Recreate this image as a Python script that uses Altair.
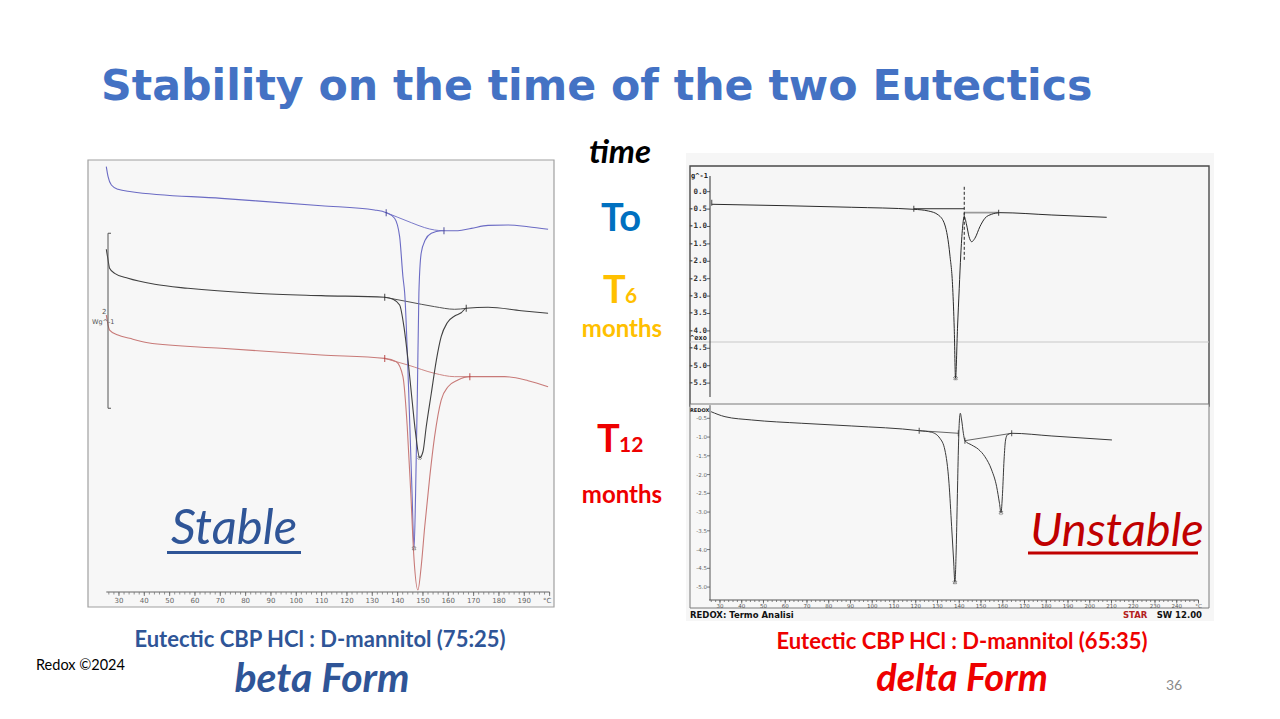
import altair as alt
import pandas as pd

# ---------------- beta form DSC traces (temperature in degC, heat flow in W/g, stacked display) ----
beta_t0_T = [25.0, 25.7, 27.0, 29.6, 34.9, 70.4, 109.9, 130.9, 135.5, 138.8, 140.8, 142.1, 142.8,
             144.4, 145.7, 146.5, 147.1, 147.8, 148.4, 149.3, 150.9, 153.3, 157.2, 163.8, 169.1,
             175.7, 183.6, 191.5, 199.4]
beta_t0_hf = [4.861, 4.746, 4.651, 4.602, 4.575, 4.499, 4.415, 4.366, 4.335, 4.271, 4.061, 3.603,
              3.414, 2.271, 1.128, 0.499, 1.128, 2.271, 3.414, 3.871, 4.023, 4.099, 4.129, 4.129,
              4.156, 4.190, 4.194, 4.175, 4.145]
beta_t0_base_T = [135.5, 140.1, 145.4, 150.7, 154.6, 157.9]
beta_t0_base_hf = [4.335, 4.282, 4.221, 4.164, 4.137, 4.129]

beta_t6_T = [25.0, 25.7, 26.3, 28.3, 33.6, 44.1, 57.2, 83.6, 109.9, 134.9, 138.2, 140.8, 142.5,
             144.1, 145.7, 147.1, 148.7, 150.0, 151.3, 153.3, 155.3, 157.2, 159.6, 162.5, 165.1,
             167.1, 175.7, 188.8, 199.4]
beta_t6_hf = [3.917, 3.794, 3.699, 3.642, 3.585, 3.517, 3.471, 3.414, 3.387, 3.368, 3.345, 3.280,
              3.032, 2.651, 2.194, 1.814, 1.535, 1.603, 1.889, 2.271, 2.651, 2.918, 3.078, 3.154,
              3.192, 3.242, 3.254, 3.215, 3.185]
beta_t6_base_T = [134.9, 144.1, 154.6, 162.5, 167.1]
beta_t6_base_hf = [3.368, 3.318, 3.261, 3.231, 3.242]

beta_t12_T = [25.0, 25.7, 26.3, 29.6, 34.2, 41.4, 70.4, 109.9, 134.9, 139.5, 142.1, 143.8, 145.2,
              146.5, 148.0, 149.3, 150.7, 152.7, 154.6, 157.2, 159.9, 163.8, 168.5, 182.3, 191.5,
              199.4]
beta_t12_hf = [3.166, 3.051, 2.994, 2.937, 2.899, 2.849, 2.785, 2.709, 2.670, 2.632, 2.461, 1.889,
               1.128, 0.366, 0.023, 0.289, 0.746, 1.318, 1.775, 2.194, 2.346, 2.423, 2.461, 2.461,
               2.415, 2.346]
beta_t12_base_T = [134.9, 144.1, 154.6, 162.5, 168.5]
beta_t12_base_hf = [2.670, 2.594, 2.499, 2.461, 2.461]

beta_limits_T = [135.5, 158.3, 134.9, 167.1, 134.9, 168.5]
beta_limits_hf = [4.335, 4.129, 3.368, 3.242, 2.670, 2.461]
beta_scale_bar = [2.1, 4.1]          # 2 W/g scale bar

beta_ticks = [30, 40, 50, 60, 70, 80, 90, 100, 110, 120, 130, 140, 150, 160, 170, 180, 190, 199]
beta_tick_labels = ["30", "40", "50", "60", "70", "80", "90", "100", "110", "120", "130", "140",
                    "150", "160", "170", "180", "190", "°C"]
beta_major = [30, 40, 50, 60, 70, 80, 90, 100, 110, 120, 130, 140, 150, 160, 170, 180, 190, 200]
beta_minor = list(range(26, 201, 2))
beta_x_span = [25, 200]

# ---------------- delta form DSC traces -----------------------------------------------------------
delta_t0_T = [26.2, 59.9, 90.6, 119.1, 125.8, 130.4, 133.4, 135.7, 137.0, 137.7, 138.3, 139.2,
              140.0, 140.7, 141.5, 142.3, 143.4, 144.5, 145.7, 147.2, 149.5, 151.8, 154.9, 158.7,
              182.6, 207.8]
delta_t0_hf = [-0.362, -0.402, -0.448, -0.506, -0.555, -0.670, -0.957, -1.819, -2.776, -3.925,
               -5.362, -3.925, -2.776, -1.819, -1.052, -0.718, -0.957, -1.293, -1.437, -1.339,
               -1.006, -0.764, -0.649, -0.603, -0.670, -0.736]
delta_t0_base1_T = [119.1, 142.3]
delta_t0_base1_hf = [-0.49, -0.49]
delta_t0_base2_T = [142.3, 158.1]
delta_t0_base2_hf = [-0.603, -0.603]
delta_t0_split = [142.3, 0.14, -1.99]   # vertical split line: T, top, bottom
delta_t0_limits_T = [26.2, 119.1, 142.3, 158.1]
delta_t0_limits_hf = [-0.32, -0.49, -0.70, -0.603]
delta_t0_peak_T = [138.3]
delta_t0_peak_hf = [-5.362]

delta_t12_T = [25.9, 32.3, 44.6, 67.6, 90.6, 121.6, 127.3, 131.1, 133.4, 135.3, 136.5, 137.4,
               138.0, 138.6, 139.1, 139.6, 140.0, 140.5, 141.1, 141.9, 142.6, 145.7, 148.8, 151.8,
               154.9, 157.2, 158.5, 159.2, 159.9, 160.6, 161.3, 162.2, 164.1, 182.6, 210.2]
delta_t12_hf = [-0.323, -0.456, -0.544, -0.632, -0.704, -0.829, -0.872, -1.032, -1.344, -2.232,
                -3.389, -4.277, -4.872, -4.011, -2.677, -1.344, -0.632, -0.365, -0.544, -0.899,
                -1.096, -1.211, -1.325, -1.523, -1.877, -2.323, -2.765, -3.016, -2.499, -1.611,
                -1.077, -0.936, -0.899, -0.971, -1.077]
delta_t12_base1_T = [121.6, 139.6]
delta_t12_base1_hf = [-0.829, -0.899]
delta_t12_base2_T = [142.6, 164.1]
delta_t12_base2_hf = [-1.096, -0.899]
delta_t12_limits_T = [121.6, 139.6, 142.6, 164.1]
delta_t12_limits_hf = [-0.829, -0.899, -1.096, -0.899]
delta_t12_peak_T = [138.0, 159.2]
delta_t12_peak_hf = [-4.872, -3.016]

delta_ticks = [30, 40, 50, 60, 70, 80, 90, 100, 110, 120, 130, 140, 150, 160, 170, 180, 190, 200,
               210, 220, 230, 240, 250]
delta_tick_labels = ["30", "40", "50", "60", "70", "80", "90", "100", "110", "120", "130", "140",
                     "150", "160", "170", "180", "190", "200", "210", "220", "230", "240", "°C"]
delta_minor = list(range(26, 251, 2))
delta_x_span = [25, 250]

delta_top_yticks = [0.0, -0.5, -1.0, -1.5, -2.0, -2.5, -3.0, -3.5, -4.0, -4.5, -5.0, -5.5]
delta_top_ylabels = ["0.0", "-0.5", "-1.0", "-1.5", "-2.0", "-2.5", "-3.0", "-3.5", "-4.0", "-4.5",
                     "-5.0", "-5.5"]
delta_top_y_span = [-5.9, 0.45]
delta_bot_yticks = [-0.5, -1.0, -1.5, -2.0, -2.5, -3.0, -3.5, -4.0, -4.5, -5.0]
delta_bot_ylabels = ["-0.5", "-1.0", "-1.5", "-2.0", "-2.5", "-3.0", "-3.5", "-4.0", "-4.5", "-5.0"]
delta_bot_y_span = [-5.35, -0.15]

# ---------------- scales: each DSC panel gets its own pixel window on the slide ------------------
W, H = 1280, 719
BX = alt.Scale(domain=[25, 200], range=[106.3, 549.6], nice=False, zero=False)
BY = alt.Scale(domain=[0, 5], range=[592, 154.5], nice=False, zero=False)
DX = alt.Scale(domain=[25, 250], range=[709.1, 1198.5], nice=False, zero=False)
DTY = alt.Scale(domain=[-6, 0.6], range=[400.5, 170.8], nice=False, zero=False)
DBY = alt.Scale(domain=[-5.35, -0.15], range=[600.2, 405.2], nice=False, zero=False)


def trace(T, hf, color, xs, ys, width=1.0):
    df = pd.DataFrame({"T": T, "hf": hf})
    return alt.Chart(df).mark_line(color=color, strokeWidth=width, interpolate="monotone").encode(
        x=alt.X("T:Q", scale=xs, axis=None),
        y=alt.Y("hf:Q", scale=ys, axis=None),
    )


def limit_marks(T, hf, color, xs, ys, size=7):
    df = pd.DataFrame({"T": T, "hf": hf})
    return alt.Chart(df).mark_tick(color=color, orient="vertical", size=size, thickness=1.2).encode(
        x=alt.X("T:Q", scale=xs, axis=None),
        y=alt.Y("hf:Q", scale=ys, axis=None),
    )


def peak_marks(T, hf, color, xs, ys):
    df = pd.DataFrame({"T": T, "hf": hf})
    return alt.Chart(df).mark_point(shape="cross", angle=45, size=14, color=color, strokeWidth=0.8).encode(
        x=alt.X("T:Q", scale=xs, axis=None),
        y=alt.Y("hf:Q", scale=ys, axis=None),
    )


# instrument-style axes drawn through the panel scales
def x_axis_line(span, xs, y, color, sw=1.0):
    df = pd.DataFrame({"a": [span[0]], "b": [span[1]]})
    return alt.Chart(df).mark_rule(color=color, strokeWidth=sw).encode(
        x=alt.X("a:Q", scale=xs, axis=None), x2="b:Q", y=alt.value(y))


def x_ticks(vals, xs, y, length, color):
    df = pd.DataFrame({"T": vals})
    return alt.Chart(df).mark_rule(color=color, strokeWidth=0.8).encode(
        x=alt.X("T:Q", scale=xs, axis=None), y=alt.value(y), y2=alt.value(y + length))


def x_labels(vals, labs, xs, y, size, color):
    df = pd.DataFrame({"T": vals, "lab": labs})
    return alt.Chart(df).mark_text(font="DejaVu Sans", fontSize=size, color=color,
                                   baseline="middle", align="center").encode(
        x=alt.X("T:Q", scale=xs, axis=None), y=alt.value(y), text="lab:N")


def y_axis_line(span, ys, x, color, sw=1.0):
    df = pd.DataFrame({"a": [span[0]], "b": [span[1]]})
    return alt.Chart(df).mark_rule(color=color, strokeWidth=sw).encode(
        y=alt.Y("a:Q", scale=ys, axis=None), y2="b:Q", x=alt.value(x))


def y_ticks(vals, ys, x, length, color):
    df = pd.DataFrame({"v": vals})
    return alt.Chart(df).mark_rule(color=color, strokeWidth=0.8).encode(
        y=alt.Y("v:Q", scale=ys, axis=None), x=alt.value(x - length), x2=alt.value(x))


def y_labels(vals, labs, ys, x, size, color, font="DejaVu Sans", weight="normal"):
    df = pd.DataFrame({"v": vals, "lab": labs})
    return alt.Chart(df).mark_text(font=font, fontSize=size, fontWeight=weight, color=color,
                                   baseline="middle", align="right").encode(
        y=alt.Y("v:Q", scale=ys, axis=None), x=alt.value(x), text="lab:N")


def box(x1, x2, y1, y2, fill=None, stroke=None, sw=1.0):
    kw = {}
    if fill is not None:
        kw["fill"] = fill
    else:
        kw["fillOpacity"] = 0
    if stroke is not None:
        kw["stroke"] = stroke
        kw["strokeWidth"] = sw
    return alt.Chart(pd.DataFrame({"k": [0]})).mark_rect(**kw).encode(
        x=alt.value(x1), x2=alt.value(x2), y=alt.value(y1), y2=alt.value(y2))


def hline(x1, x2, y, color, sw=1.0):
    return alt.Chart(pd.DataFrame({"k": [0]})).mark_rule(color=color, strokeWidth=sw).encode(
        x=alt.value(x1), x2=alt.value(x2), y=alt.value(y))


def label(text, x, y, size, color, font="Lato", weight="normal", style="normal", align="left",
          baseline="alphabetic", opacity=1.0):
    return alt.Chart(pd.DataFrame({"t": [text]})).mark_text(
        font=font, fontSize=size, fontWeight=weight, fontStyle=style, color=color, align=align,
        baseline=baseline, opacity=opacity,
    ).encode(x=alt.value(x), y=alt.value(y), text="t:N")


# ---------------- panels --------------------------------------------------------------------------
BLUE, GREY, RED = "#6b6bc4", "#404040", "#c87a78"
INK = "#2b2b2b"

beta_panel = [
    box(88, 554, 160, 607, fill="#f7f7f7", stroke="#a0a0a0", sw=1.2),
    trace(beta_t0_base_T, beta_t0_base_hf, BLUE, BX, BY, 0.9),
    trace(beta_t6_base_T, beta_t6_base_hf, GREY, BX, BY, 0.9),
    trace(beta_t12_base_T, beta_t12_base_hf, RED, BX, BY, 0.9),
    trace(beta_t0_T, beta_t0_hf, BLUE, BX, BY, 1.1),
    trace(beta_t6_T, beta_t6_hf, GREY, BX, BY, 1.1),
    trace(beta_t12_T, beta_t12_hf, RED, BX, BY, 1.1),
    limit_marks(beta_limits_T[0:2], beta_limits_hf[0:2], "#30308a", BX, BY),
    limit_marks(beta_limits_T[2:4], beta_limits_hf[2:4], "#222222", BX, BY),
    limit_marks(beta_limits_T[4:6], beta_limits_hf[4:6], "#b03030", BX, BY),
    peak_marks([146.5, 148.7], [0.499, 1.535], "#444", BX, BY),
    # temperature axis
    x_axis_line(beta_x_span, BX, 592, "#666"),
    x_ticks(beta_minor, BX, 592, 2.5, "#777"),
    x_ticks(beta_major, BX, 592, 4, "#666"),
    x_labels(beta_ticks, beta_tick_labels, BX, 601, 7, "#666"),
    # 2 W/g scale bar
    y_axis_line(beta_scale_bar, BY, 108, "#555"),
    alt.Chart(pd.DataFrame({"v": beta_scale_bar})).mark_rule(color="#555", strokeWidth=1).encode(
        x=alt.value(108), x2=alt.value(111), y=alt.Y("v:Q", scale=BY, axis=None)),
    label("2", 102, 314, 7, "#555", font="DejaVu Sans"),
    label("Wg^-1", 92, 324, 6.5, "#555", font="DejaVu Sans"),
]

delta_panel = [
    box(686, 1214, 153, 621, fill="#f6f6f6"),
    box(690, 1209, 166, 406, stroke="#4a4a4a", sw=1.4),
    hline(690, 1209, 342, "#c8c8c8", 1.0),
    # upper run (T0)
    y_axis_line(delta_top_y_span, DTY, 710, "#333"),
    y_ticks(delta_top_yticks, DTY, 710, 3, "#333"),
    y_labels(delta_top_yticks, delta_top_ylabels, DTY, 707, 7.5, "#333",
             font="DejaVu Sans Mono", weight="bold"),
    trace(delta_t0_base1_T, delta_t0_base1_hf, INK, DX, DTY, 1.0),
    trace(delta_t0_base2_T, delta_t0_base2_hf, "#999", DX, DTY, 1.6),
    trace(delta_t0_T, delta_t0_hf, INK, DX, DTY, 1.0),
    alt.Chart(pd.DataFrame({"T": [delta_t0_split[0]], "a": [delta_t0_split[1]], "b": [delta_t0_split[2]]}))
    .mark_rule(color="#222", strokeWidth=1, strokeDash=[3, 2]).encode(
        x=alt.X("T:Q", scale=DX, axis=None), y=alt.Y("a:Q", scale=DTY, axis=None), y2="b:Q"),
    limit_marks(delta_t0_limits_T, delta_t0_limits_hf, "#222", DX, DTY, size=6),
    peak_marks(delta_t0_peak_T, delta_t0_peak_hf, "#222", DX, DTY),
    # lower run (T12), pasted over the bottom of the upper one
    box(690, 1209, 404, 608, fill="#f7f7f7", stroke="#7a7a7a", sw=1.0),
    x_axis_line(delta_x_span, DX, 600, "#555"),
    x_ticks(delta_minor, DX, 600, 2, "#666"),
    x_ticks(delta_ticks, DX, 600, 3.5, "#555"),
    x_labels(delta_ticks, delta_tick_labels, DX, 606, 5.5, "#555"),
    y_axis_line(delta_bot_y_span, DBY, 710, "#555"),
    y_ticks(delta_bot_yticks, DBY, 710, 3, "#555"),
    y_labels(delta_bot_yticks, delta_bot_ylabels, DBY, 707, 5.5, "#666"),
    trace(delta_t12_base1_T, delta_t12_base1_hf, "#555", DX, DBY, 0.9),
    trace(delta_t12_base2_T, delta_t12_base2_hf, "#555", DX, DBY, 0.9),
    trace(delta_t12_T, delta_t12_hf, "#3a3a3a", DX, DBY, 1.0),
    limit_marks(delta_t12_limits_T, delta_t12_limits_hf, "#333", DX, DBY, size=6),
    peak_marks(delta_t12_peak_T, delta_t12_peak_hf, "#333", DX, DBY),
    # instrument annotations
    label("g^-1", 691, 178, 7, "#222", font="DejaVu Sans Mono", weight="bold"),
    label("^exo", 690, 340, 7, "#222", font="DejaVu Sans Mono", weight="bold"),
    label("REDOX", 690, 412, 5, "#222", font="DejaVu Sans", weight="bold"),
    label("REDOX: Termo Analisi", 690, 617.5, 8.5, "#111", font="DejaVu Sans", weight="bold"),
    label("STAR", 1123, 617.5, 8.5, "#b32020", font="DejaVu Sans", weight="bold"),
    label("SW 12.00", 1202, 617.5, 8.5, "#111", font="DejaVu Sans", weight="bold", align="right"),
]

# ---------------- slide text ----------------------------------------------------------------------
TITLE_BLUE = "#4472c4"
DARK_BLUE = "#2f5597"
DARK_RED = "#c00000"
RED_TXT = "#ee0000"

slide_text = [
    label("Stability on the time of the two Eutectics", 101, 100, 42.7, TITLE_BLUE,
          font="DejaVu Sans", weight="bold"),
    label("time", 620, 163, 33, "#000", weight="bold", style="italic", align="center"),
    label("To", 621, 231, 38, "#0070c0", weight="bold", align="center"),
    label("T", 603, 303, 38, "#ffc000", weight="bold"),
    label("6", 625, 303, 21, "#ffc000", weight="bold"),
    label("months", 622, 337, 24, "#ffc000", weight="bold", align="center"),
    label("T", 597, 452, 38, RED_TXT, weight="bold"),
    label("12", 619, 452, 21, RED_TXT, weight="bold"),
    label("months", 622, 503, 24, RED_TXT, weight="bold", align="center"),
    label("Stable", 234, 544, 49, DARK_BLUE, style="italic", align="center"),
    hline(167, 301, 552.5, DARK_BLUE, 3.2),
    label("Unstable", 1117, 546, 47, DARK_RED, style="italic", align="center"),
    hline(1028, 1198, 553, DARK_RED, 3.2),
    label("Eutectic CBP HCl : D-mannitol  (75:25)", 320, 647, 22, DARK_BLUE, weight="bold",
          align="center"),
    label("beta Form", 322, 692, 41, DARK_BLUE, weight="bold", style="italic", align="center"),
    label("Eutectic CBP HCl : D-mannitol  (65:35)", 962, 649, 22, RED_TXT, weight="bold",
          align="center"),
    label("delta Form", 962, 691, 38, RED_TXT, weight="bold", style="italic", align="center"),
    label("Redox ©2024", 36, 670, 14.5, "#000"),
    label("36", 1174, 690, 14, "#8a8a8a", align="center"),
]

chart = (
    alt.layer(*beta_panel, *delta_panel, *slide_text)
    .resolve_scale(x="independent", y="independent")
    .properties(width=W, height=H, padding=0, autosize=alt.AutoSizeParams(type="none"),
                background="white")
    .configure_view(stroke=None)
)

chart.save("out.html", embed_options={"renderer": "svg", "actions": False})
